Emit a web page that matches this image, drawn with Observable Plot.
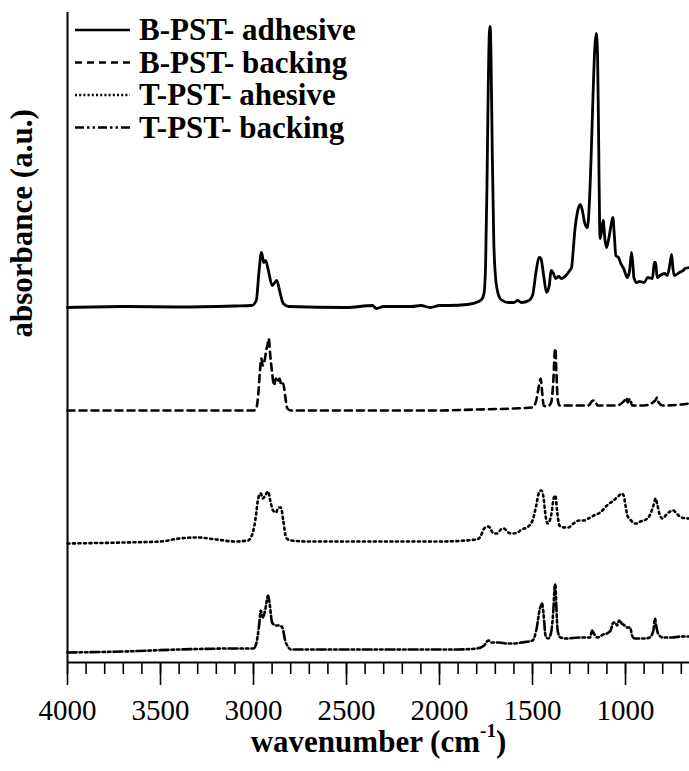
<!DOCTYPE html>
<html>
<head>
<meta charset="utf-8">
<script src="https://cdn.jsdelivr.net/npm/d3@7"></script>
<script src="https://cdn.jsdelivr.net/npm/@observablehq/plot@0.6"></script>
<style>
  html, body { margin: 0; padding: 0; background: #fff; }
  #chart svg { display: block; }
</style>
</head>
<body>
<div id="chart"></div>
<script>
// ---- data ----
const seriesNames = ["B-PST- adhesive", "B-PST- backing", "T-PST- ahesive", "T-PST- backing"];
const seriesOffsets = [3.55, 2.52, 1.20, 0.11]; // vertical stacking offsets (a.u.)

const s1Wn  = [4000,3700,3400,3100,3010,2985,2970,2957,2945,2935,2920,2900,2875,2860,2840,2810,2500,2360,2340,2300,2150,2100,2050,2000,1950,1850,1790,1770,1760,1752,1745,1738,1732,1728,1723,1716,1708,1700,1690,1670,1630,1600,1580,1560,1520,1500,1480,1465,1455,1440,1425,1410,1400,1390,1375,1360,1345,1320,1300,1290,1280,1272,1260,1243,1232,1220,1205,1195,1185,1175,1165,1157,1150,1144,1139,1136,1128,1120,1110,1102,1090,1078,1068,1060,1052,1038,1025,1010,990,978,968,960,955,940,925,900,880,855,845,838,830,815,790,775,760,752,745,738,710,690,680,656];
const s1Abs = [0,0.01,0.005,0.015,0.02,0.07,0.37,0.55,0.45,0.47,0.37,0.22,0.27,0.17,0.04,0.01,0,0.02,-0.01,0.01,0.01,0.02,0,0.02,0.02,0.03,0.06,0.09,0.15,0.45,1.2,2.2,2.75,2.81,2.5,1.5,0.65,0.33,0.18,0.08,0.05,0.05,0.07,0.05,0.07,0.12,0.37,0.50,0.49,0.32,0.15,0.22,0.37,0.35,0.29,0.31,0.29,0.32,0.37,0.40,0.60,0.78,0.94,1.03,0.97,0.85,0.80,1.02,1.5,2.1,2.6,2.74,2.5,1.6,0.8,0.69,0.77,0.87,0.67,0.60,0.69,0.82,0.90,0.72,0.52,0.50,0.44,0.39,0.30,0.37,0.55,0.42,0.30,0.25,0.26,0.25,0.30,0.29,0.45,0.45,0.30,0.32,0.34,0.32,0.45,0.53,0.39,0.32,0.35,0.37,0.39,0.40];

const s2Wn  = [4000,3500,3000,2985,2975,2965,2958,2950,2940,2932,2925,2918,2910,2900,2890,2880,2870,2860,2850,2840,2830,2818,2800,2500,2000,1800,1600,1500,1480,1465,1456,1448,1440,1420,1400,1388,1380,1377,1372,1365,1355,1300,1200,1175,1165,1150,1050,1005,995,988,975,965,900,840,830,822,800,700,656];
const s2Abs = [0,0,0,0.02,0.15,0.40,0.52,0.45,0.50,0.60,0.65,0.72,0.55,0.38,0.25,0.32,0.28,0.32,0.25,0.27,0.15,0.02,0,0,0,0.01,0.02,0.03,0.10,0.25,0.32,0.18,0.05,0.04,0.08,0.30,0.60,0.62,0.40,0.12,0.05,0.05,0.05,0.10,0.10,0.05,0.05,0.10,0.13,0.08,0.12,0.05,0.05,0.10,0.13,0.08,0.05,0.06,0.07];

const s3Wn  = [4000,3700,3500,3400,3300,3200,3100,3030,3014,2995,2985,2975,2961,2950,2940,2921,2910,2895,2880,2865,2853,2840,2825,2800,2700,2000,1800,1780,1760,1740,1730,1710,1690,1670,1655,1630,1610,1580,1560,1530,1500,1480,1465,1452,1440,1430,1418,1400,1385,1377,1368,1355,1330,1309,1280,1250,1223,1200,1170,1136,1100,1065,1040,1020,1010,1000,990,970,950,937,920,900,870,850,838,828,815,800,780,760,743,725,700,656];
const s3Abs = [-0.01,0,0.01,0.04,0.05,0.03,0.01,0.02,0.05,0.17,0.30,0.44,0.49,0.44,0.46,0.51,0.42,0.32,0.30,0.35,0.35,0.22,0.05,0.02,0.01,0.01,0.03,0.06,0.14,0.16,0.15,0.09,0.09,0.13,0.14,0.10,0.09,0.10,0.13,0.15,0.22,0.37,0.50,0.52,0.44,0.27,0.19,0.27,0.45,0.47,0.32,0.17,0.15,0.15,0.19,0.22,0.22,0.24,0.27,0.30,0.37,0.42,0.46,0.49,0.47,0.37,0.27,0.22,0.19,0.19,0.21,0.22,0.27,0.37,0.44,0.37,0.27,0.24,0.28,0.31,0.32,0.29,0.25,0.24];

const s4Wn  = [4000,3700,3400,3100,3000,2985,2970,2961,2950,2940,2921,2912,2900,2880,2860,2845,2830,2815,2800,2500,2000,1900,1800,1760,1745,1735,1720,1680,1640,1600,1560,1500,1480,1460,1448,1440,1430,1415,1400,1388,1380,1377,1372,1365,1350,1320,1250,1190,1180,1170,1150,1120,1100,1080,1065,1055,1045,1035,1020,1005,990,975,965,950,900,870,850,842,835,825,800,750,700,656];
const s4Abs = [-0.01,0,0.02,0.03,0.03,0.08,0.26,0.41,0.34,0.39,0.56,0.46,0.29,0.26,0.26,0.24,0.11,0.05,0.02,0.02,0.02,0.02,0.03,0.06,0.10,0.11,0.09,0.09,0.08,0.08,0.09,0.11,0.21,0.43,0.48,0.36,0.16,0.13,0.19,0.41,0.66,0.67,0.46,0.21,0.14,0.13,0.14,0.14,0.21,0.18,0.14,0.17,0.18,0.21,0.29,0.29,0.26,0.31,0.28,0.26,0.24,0.24,0.16,0.13,0.13,0.14,0.21,0.33,0.26,0.18,0.14,0.14,0.15,0.15];

const majorTicks = [4000, 3500, 3000, 2500, 2000, 1500, 1000];
const minorTicks = d3.range(700, 4001, 100);
const xLabelMain = "wavenumber (cm";
const xLabelSup = "-1";
const yLabel = "absorbance (a.u.)";

// ---- styles (kept apart from data) ----
const dashes = [null, "7,5", "2,3.5", "9,3,2.5,3,2.5,3"];
const legendDashes = [null, "7,5", "2,2.2", "9,3,2.5,3,2.5,3"];
const FONT = "'Liberation Serif', 'Times New Roman', Times, serif";

const wnArrays = [s1Wn, s2Wn, s3Wn, s4Wn];
const absArrays = [s1Abs, s2Abs, s3Abs, s4Abs];
const rows = [];
wnArrays.forEach((wn, k) => wn.forEach((w, i) => rows.push({series: k, wn: w, a: absArrays[k][i] + seriesOffsets[k]})));

const lineMarks = seriesNames.map((name, k) => Plot.line(rows.filter(d => d.series === k), {
  x: "wn", y: "a", stroke: "black", strokeWidth: k === 0 ? 2.8 : 2.6,
  strokeDasharray: dashes[k], curve: "monotone-x", strokeLinejoin: "round"
}));

const plot = Plot.plot({
  width: 689, height: 771,
  marginTop: 12, marginBottom: 109, marginLeft: 67, marginRight: 0,
  style: {fontFamily: FONT, background: "white", color: "black", overflow: "visible"},
  x: {domain: [4000, 656]},
  y: {domain: [0, 6.5], axis: null},
  marks: [
    Plot.axisX(minorTicks, {tickSize: 12, text: null, strokeWidth: 1.6, label: null}),
    Plot.axisX(majorTicks, {tickSize: 23, tickPadding: 14, fontSize: 29, fontFamily: FONT, tickFormat: d3.format("d"), strokeWidth: 1.6, label: null, fill: "black"}),
    Plot.ruleY([0], {strokeWidth: 2}),
    Plot.ruleX([4000], {strokeWidth: 2}),
    ...lineMarks,
    Plot.text([yLabel], {frameAnchor: "left", dx: -45, rotate: -90, fontSize: 31, fontFamily: FONT, fontWeight: "bold", fill: "black"}),
    Plot.text([xLabelMain], {frameAnchor: "bottom", dy: 89, fontSize: 31, fontFamily: FONT, fontWeight: "bold", fill: "black"})
  ]
});

// superscript in x label
const svg = d3.select(plot);
const xl = svg.selectAll("text").filter(function() { return this.textContent === xLabelMain; });
xl.text(null);
xl.append("tspan").text(xLabelMain);
xl.append("tspan").text(xLabelSup).attr("font-size", "0.62em").attr("dy", "-0.75em");
xl.append("tspan").text(")").attr("dy", "0.47em");

// legend
const leg = svg.append("g").attr("font-family", FONT).attr("font-weight", "bold")
  .attr("font-size", 31).attr("text-anchor", "start");
seriesNames.forEach((name, k) => {
  const cy = 30 + k * 32.5;
  leg.append("line").attr("x1", 75).attr("x2", 130).attr("y1", cy).attr("y2", cy)
    .attr("stroke", "black").attr("stroke-width", 2.4).attr("stroke-dasharray", legendDashes[k]);
  leg.append("text").attr("x", 139).attr("y", cy).attr("dy", "0.33em").attr("text-anchor", "start").text(name);
});

document.getElementById("chart").appendChild(plot);
</script>
</body>
</html>
